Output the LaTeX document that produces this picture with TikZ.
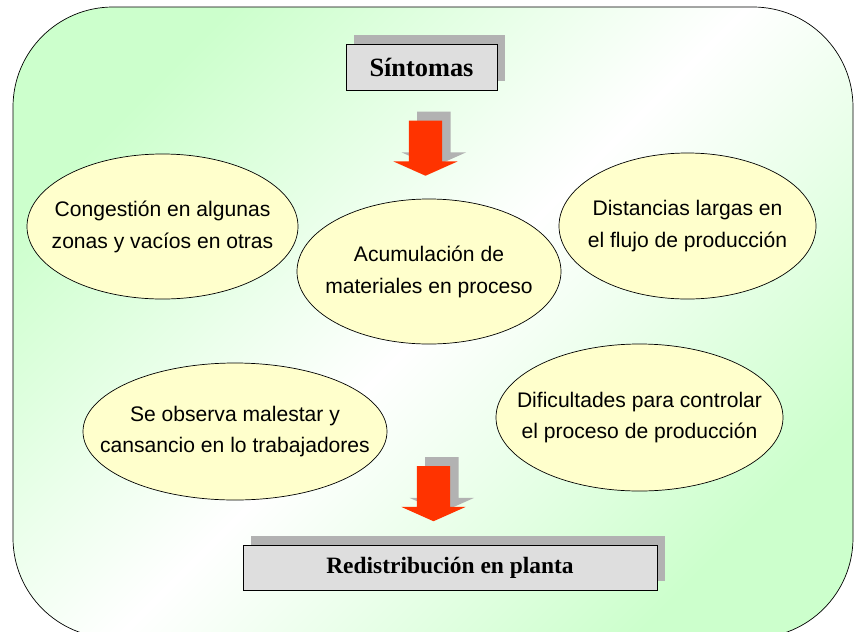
\documentclass[tikz,border=0pt]{standalone}
\usepackage{fontspec}
\setmainfont{Liberation Serif}
\newfontfamily\arialfam{Liberation Sans}
\usetikzlibrary{shapes.geometric,shapes.arrows,shadows}
\definecolor{ffttqq}{rgb}{1,0.2,0}
\definecolor{ffffcc}{rgb}{1,1,0.8}
\definecolor{ccffcc}{rgb}{0.8,1,0.8}
\definecolor{dddddd}{rgb}{0.87,0.87,0.87}
\definecolor{bbbbbb}{rgb}{0.7,0.7,0.7}
\tikzset{
  sombra/.style={drop shadow={shadow xshift=0.25cm, shadow yshift=0.27cm, fill=bbbbbb, opacity=1}},
  caja/.style={rectangle, draw=black, fill=dddddd, line width=0.6pt, sombra, font=\bfseries\fontsize{20}{24}\selectfont},
  globo/.style={ellipse, draw=black, fill=ffffcc, line width=0.6pt, inner sep=0pt},
  texto/.style={align=center, font=\arialfam\fontsize{18}{27.2}\selectfont},
  flecha/.style={single arrow, fill=ffttqq, sombra, shape border rotate=270, inner sep=0.495cm, single arrow head extend=0.465cm, single arrow tip angle=132, minimum height=1.65cm},
}
\begin{document}
\begin{tikzpicture}[x=0.03cm, y=-0.03cm]
    \useasboundingbox (0,0) rectangle (854,631);
    \shade[draw=black, line width=0.6pt, rounded corners=3cm, top color=ccffcc, bottom color=ccffcc, middle color=white, shading angle=45] (13,7) rectangle (853,638);
    \node[caja, minimum width=4.53cm, minimum height=1.38cm, font=\bfseries\fontsize{22.5}{26}\selectfont] (b1) at (421.5,67) {Síntomas};
    \node[flecha] (f1) at (425.5,144.5) {};
    \node[globo, minimum width=8.13cm, minimum height=4.35cm, label={[texto]center:Congestión en algunas\\zonas y vacíos en otras}] (e1) at (162.5,226.5) {};
    \node[globo, minimum width=7.71cm, minimum height=4.38cm, label={[texto]center:Distancias largas en\\el flujo de producción}] (e3) at (687.5,226) {};
    \node[globo, minimum width=7.92cm, minimum height=4.35cm, label={[texto]center:Acumulación de\\materiales en proceso}] (e2) at (429,271.5) {};
    \node[globo, minimum width=9.12cm, minimum height=4.11cm, label={[texto]center:Se observa malestar y\\cansancio en lo trabajadores}] (e4) at (235,431.5) {};
    \node[globo, minimum width=8.61cm, minimum height=4.41cm, label={[texto]center:Dificultades para controlar\\el proceso de producción}] (e5) at (639.5,417.5) {};
    \node[flecha] (f2) at (433.5,490) {};
    \node[caja, minimum width=12.42cm, minimum height=1.35cm] (b2) at (450,567.5) {Redistribución en planta};
\end{tikzpicture}
\end{document}
